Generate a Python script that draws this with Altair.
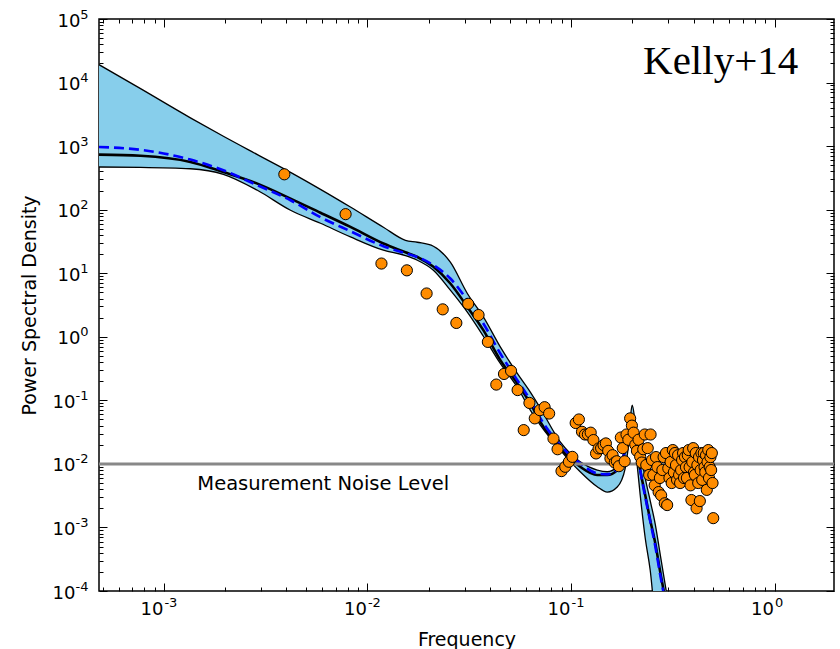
import altair as alt
import pandas as pd

# ---------------- data ----------------
# model curves (frequency grid along the curves)
curve_freq = [4.8e-4, 7.68e-4, 1.35e-3, 1.96e-3, 2.88e-3, 4.19e-3, 5.88e-3, 8.25e-3,
              0.01198, 0.01537, 0.01759, 0.02109, 0.02555, 0.03097, 0.03711, 0.04496,
              0.05449, 0.06313, 0.07069, 0.08857, 0.1110, 0.1346, 0.1508, 0.1688,
              0.1847, 0.1955, 0.2000, 0.2068, 0.2189, 0.2316, 0.2450, 0.2594,
              0.2745, 0.2971, 0.3143]
band_upper = [19120, 8020, 2786, 1427, 735, 387, 209, 110,
              52.9, 33.0, 30.7, 26.6, 14.9, 4.80, 2.06, 0.694,
              0.265, 0.1346, 0.0754, 0.02227, 0.0108, 0.00799, 0.00752, 0.00901,
              0.01753, 0.0525, 0.0841, 0.0454, 0.0159, 0.00598, 0.00265, 0.00113,
              3.74e-4, 8.05e-5, 2.7e-5]
band_lower = [469, 464, 440, 360, 202, 97.9, 61.1, 37.2,
              23.0, 18.9, 16.0, 11.15, 5.41, 2.44, 1.02, 0.380,
              0.161, 0.0702, 0.0408, 0.01649, 0.00752, 0.00437, 0.00360, 0.00432,
              0.00850, 0.0316, 0.0525, 0.01976, 0.00323, 6.82e-4, 2.14e-4, 3.9e-5,
              2e-5, 1e-5, 1e-5]
median_psd = [735, 704, 563, 391, 257, 149.5, 89.4, 53.5,
              29.3, 21.4, 18.0, 12.6, 6.89, 2.95, 1.27, 0.429,
              0.1844, 0.0894, 0.0459, 0.01753, 0.00901, 0.00667, 0.00667, 0.00799,
              0.01649, 0.0408, 0.0488, 0.0264, 0.00799, 0.00323, 0.00131, 5.69e-4,
              1.99e-4, 5.03e-5, 2e-5]
true_psd = [968, 875, 613, 416, 242, 140.6, 76.0, 45.8,
            26.6, 20.6, 18.0, 13.4, 8.26, 3.76, 1.62, 0.546,
            0.208, 0.1008, 0.0525, 0.01976, 0.01019, 0.00709, 0.00684, 0.00829,
            0.01649, 0.0408, 0.0488, 0.0264, 0.00799, 0.00301, 0.00126, 5.1e-4,
            1.79e-4, 4.68e-5, 2e-5]

# periodogram points: harmonics k of 1/256 (regular frequency grid), read PSD values
harmonic = list(range(1, 129))
periodogram = [360, 85, 14.2, 11.1, 4.8, 2.7, 1.65, 3.3, 2.2, 0.83,
               0.177, 0.26, 0.29, 0.145, 0.034, 0.091, 0.052, 0.070, 0.078, 0.062,
               0.025, 0.017, 0.0077, 0.009, 0.0108, 0.0129, 0.044, 0.050, 0.032, 0.029,
               0.029, 0.031, 0.0237, 0.0146, 0.0175, 0.0177, 0.0198, 0.021, 0.016, 0.0122,
               0.0137, 0.0105, 0.011, 0.0092, 0.026, 0.0177, 0.011, 0.029, 0.024, 0.052,
               0.040, 0.031, 0.020, 0.016, 0.024, 0.013, 0.0105, 0.017, 0.029, 0.0096,
               0.0177, 0.0067, 0.029, 0.0115, 0.0067, 0.0046, 0.0128, 0.0089, 0.0036, 0.006,
               0.0032, 0.0080, 0.0128, 0.0024, 0.0148, 0.00225, 0.0085, 0.006, 0.0107, 0.005,
               0.0165, 0.0074, 0.0148, 0.0096, 0.0056, 0.0137, 0.0067, 0.005, 0.008, 0.0115,
               0.0148, 0.006, 0.0128, 0.0089, 0.006, 0.0137, 0.0165, 0.0089, 0.0046, 0.0027,
               0.0107, 0.0177, 0.0074, 0.0067, 0.0148, 0.002, 0.0096, 0.005, 0.0128, 0.0026,
               0.008, 0.0148, 0.0056, 0.0115, 0.0148, 0.0089, 0.0074, 0.0137, 0.0039, 0.0107,
               0.0165, 0.006, 0.0089, 0.0128, 0.008, 0.0148, 0.005, 0.0014]

noise_level = [0.01]
noise_text = ["Measurement Noise Level"]
noise_text_pos = [1.46e-3, 0.0039]
title_text = ["Kelly+14"]
title_text_pos = [0.226, 13460]

x_domain = [4.8e-4, 1.96]
y_domain = [1e-4, 1e5]
x_tick_values = [1e-3, 1e-2, 1e-1, 1.0]
x_tick_exponents = ["-3", "-2", "-1", "0"]
y_tick_values = [1e-4, 1e-3, 1e-2, 1e-1, 1.0, 1e1, 1e2, 1e3, 1e4, 1e5]
y_tick_exponents = ["-4", "-3", "-2", "-1", "0", "1", "2", "3", "4", "5"]
tick_base = "10"

# ---------------- tables ----------------
curves = pd.DataFrame({"f": curve_freq, "upper": band_upper, "lower": band_lower,
                       "median": median_psd, "truth": true_psd})
points = pd.DataFrame({"f": [k / 256 for k in harmonic], "psd": periodogram})
noise = pd.DataFrame({"level": noise_level})
notes = pd.DataFrame({"f": [noise_text_pos[0]], "y": [noise_text_pos[1]], "t": noise_text})
tnote = pd.DataFrame({"f": [title_text_pos[0]], "y": [title_text_pos[1]], "t": title_text})

minor_x = [m * 10.0 ** e for e in (-4, -3, -2, -1) for m in range(2, 10)
           if x_domain[0] <= m * 10.0 ** e <= x_domain[1]]
minor_y = [m * 10.0 ** e for e in range(-4, 5) for m in range(2, 10)]


def label_expr(vals, labs):
    parts = [f"(abs(datum.value - {v!r}) < {v * 1e-3!r}) ? '{l}'" for v, l in zip(vals, labs)]
    return " : ".join(parts) + " : ''"


FONT = "DejaVu Sans"
BASE_FS = 18
EXP_FS = 13
xs = alt.Scale(type="log", domain=x_domain, nice=False)
ys = alt.Scale(type="log", domain=y_domain, nice=False)


def tick_axis(orient, values, size):
    return alt.Axis(orient=orient, values=values, labels=False, domain=False, grid=False,
                    ticks=True, tickSize=size, offset=-size, tickColor="black",
                    tickWidth=1, title=None)


common_lab = dict(ticks=False, tickSize=0, domain=False, grid=False, labelFlush=False,
                  labelFont=FONT, labelColor="black", labelOverlap=False)

# "10" part of the tick labels
x_base_axis = alt.Axis(orient="bottom", values=x_tick_values, labelExpr=f"'{tick_base}'",
                       labelFontSize=BASE_FS, labelAlign="right", labelOffset=-1,
                       labelPadding=9,
                       title="Frequency", titleFont=FONT, titleFontSize=19,
                       titleFontWeight="normal", titleColor="black", titlePadding=12,
                       **common_lab)
y_base_axis = alt.Axis(orient="left", values=y_tick_values, labelExpr=f"'{tick_base}'",
                       labelFontSize=BASE_FS, labelAlign="right", labelBaseline="middle",
                       labelOffset=2,
                       labelPadding={"condition": {"test": "datum.value < 1", "value": 24},
                                     "value": 19},
                       title="Power Spectral Density", titleFont=FONT, titleFontSize=19,
                       titleFontWeight="normal", titleColor="black", titlePadding=13,
                       **common_lab)
# exponent part of the tick labels
x_exp_axis = alt.Axis(orient="bottom", values=x_tick_values,
                      labelExpr=label_expr(x_tick_values, x_tick_exponents),
                      labelFontSize=EXP_FS, labelAlign="left", labelOffset=0,
                      labelPadding=5, title=None, **common_lab)
y_exp_axis = alt.Axis(orient="left", values=y_tick_values,
                      labelExpr=label_expr(y_tick_values, y_tick_exponents),
                      labelFontSize=EXP_FS, labelAlign="right", labelBaseline="middle",
                      labelOffset=-5, labelPadding=11, title=None, **common_lab)

base = alt.Chart(curves)

band = base.mark_area(color="#87CEEB", opacity=1, interpolate="monotone", clip=True).encode(
    x=alt.X("f:Q", scale=xs, axis=x_base_axis),
    y=alt.Y("upper:Q", scale=ys, axis=y_base_axis),
    y2="lower:Q",
)
edge_up = base.mark_line(color="black", strokeWidth=1.3, interpolate="monotone", clip=True).encode(
    x=alt.X("f:Q", scale=xs, axis=tick_axis("bottom", x_tick_values, 8)),
    y=alt.Y("upper:Q", scale=ys, axis=tick_axis("left", y_tick_values, 8)),
)
edge_lo = base.mark_line(color="black", strokeWidth=1.3, interpolate="monotone", clip=True).encode(
    x=alt.X("f:Q", scale=xs, axis=tick_axis("bottom", minor_x, 4)),
    y=alt.Y("lower:Q", scale=ys, axis=tick_axis("left", minor_y, 4)),
)
med = base.mark_line(color="black", strokeWidth=2.6, interpolate="monotone", clip=True).encode(
    x=alt.X("f:Q", scale=xs, axis=tick_axis("top", x_tick_values, 8)),
    y=alt.Y("median:Q", scale=ys, axis=tick_axis("right", y_tick_values, 8)),
)
tru = base.mark_line(color="#0000FF", strokeWidth=2.6, strokeDash=[10, 5],
                     interpolate="monotone", clip=True).encode(
    x=alt.X("f:Q", scale=xs, axis=tick_axis("top", minor_x, 4)),
    y=alt.Y("truth:Q", scale=ys, axis=tick_axis("right", minor_y, 4)),
)
noise_rule = alt.Chart(noise).mark_rule(color="#888888", strokeWidth=3).encode(
    y=alt.Y("level:Q", scale=ys, axis=None),
)
pts = alt.Chart(points).mark_circle(size=125, color="#FF8C00", opacity=1, stroke="black",
                                    strokeWidth=1, clip=True).encode(
    x=alt.X("f:Q", scale=xs, axis=x_exp_axis),
    y=alt.Y("psd:Q", scale=ys, axis=y_exp_axis),
)
noise_lbl = alt.Chart(notes).mark_text(font=FONT, fontSize=19.5, align="left",
                                       baseline="alphabetic", color="black").encode(
    x=alt.X("f:Q", scale=xs, axis=None),
    y=alt.Y("y:Q", scale=ys, axis=None),
    text="t:N",
)
title_lbl = alt.Chart(tnote).mark_text(font="Liberation Serif", fontSize=41, align="left",
                                       baseline="alphabetic", color="black").encode(
    x=alt.X("f:Q", scale=xs, axis=None),
    y=alt.Y("y:Q", scale=ys, axis=None),
    text="t:N",
)

chart = (
    alt.layer(band, edge_up, edge_lo, med, tru, noise_rule, pts, noise_lbl, title_lbl)
    .resolve_axis(x="independent", y="independent")
    .properties(width=735, height=572,
                padding={"left": 99, "top": 19, "right": 6, "bottom": 58},
                autosize=alt.AutoSizeParams(type="none"), background="white")
    .configure_view(stroke="black", strokeWidth=1.5)
    .configure_axis(grid=False)
)

chart.save("out.html", embed_options={"renderer": "svg", "actions": False})
